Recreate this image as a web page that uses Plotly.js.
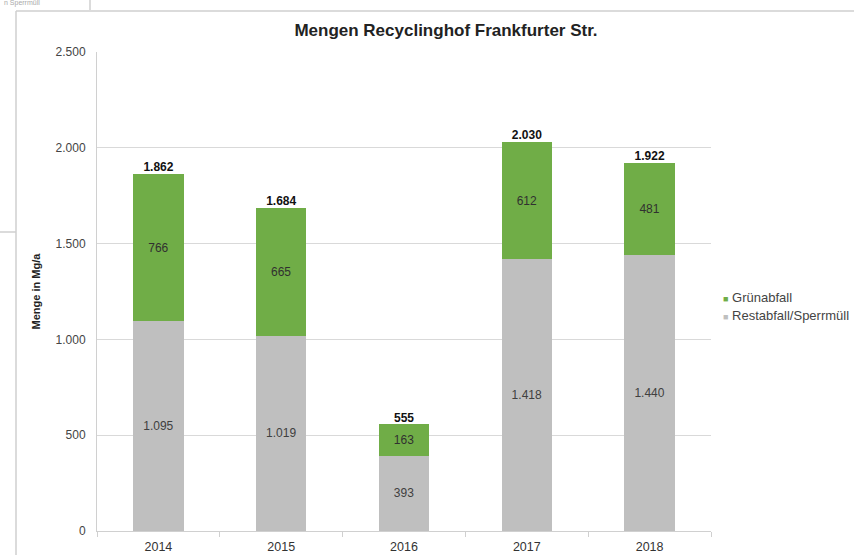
<!DOCTYPE html>
<html>
<head>
<meta charset="utf-8">
<script src="https://cdn.plot.ly/plotly-3.0.1.min.js"></script>
<style>html,body{margin:0;padding:0;background:#fff;}#chart{width:854px;height:555px;}</style>
</head>
<body>
<div id="chart"></div>
<script>
const years = ['2014', '2015', '2016', '2017', '2018'];
const restabfall = [1095, 1019, 393, 1418, 1440];
const gruenabfall = [766, 665, 163, 612, 481];
const totals = [1862, 1684, 555, 2030, 1922];
const seriesNames = ['Grünabfall', 'Restabfall/Sperrmüll'];
const seriesColors = ['#70ad47', '#bfbfbf'];

const W = 854, H = 555, L = 97, R = 711, T = 52, B = 531;
const px = x => (x - L) / (R - L);
const py = y => (B - y) / (B - T);

const font = 'Liberation Sans, Arial, sans-serif';

const traces = [
  {
    type: 'bar', name: seriesNames[1], x: years, y: restabfall,
    marker: {color: seriesColors[1]},
    texttemplate: '%{y:,}', textposition: 'inside', insidetextanchor: 'middle',
    textfont: {family: font, size: 12, color: '#404040'},
    showlegend: false
  },
  {
    type: 'bar', name: seriesNames[0], x: years, y: gruenabfall,
    marker: {color: seriesColors[0]},
    texttemplate: '%{y:,}', textposition: 'inside', insidetextanchor: 'middle',
    textfont: {family: font, size: 12, color: '#303030'},
    showlegend: false
  },
  {
    type: 'scatter', mode: 'text', x: years, y: totals, showlegend: false,
    texttemplate: '<b>%{y:,}</b>', textposition: 'top center',
    textfont: {family: font, size: 12, color: '#111'},
    hoverinfo: 'skip'
  }
];

const lineCol = '#d0d0d0';
const legendAnn = seriesNames.map((n, i) => ({
  xref: 'paper', yref: 'paper', x: px(721), y: py(297 + i * 18), xanchor: 'left', yanchor: 'middle',
  text: '<span style="color:' + seriesColors[i] + ';font-size:9px">■</span> ' + n,
  showarrow: false, font: {family: font, size: 13, color: '#444'}
}));

const layout = {
  width: W, height: H,
  margin: {l: L, r: W - R, t: T, b: H - B, pad: 0, autoexpand: false},
  paper_bgcolor: '#fff', plot_bgcolor: '#fff',
  separators: ',.',
  barmode: 'stack', bargap: 0.59,
  showlegend: false,
  font: {family: font, size: 10, color: '#444'},
  title: {
    text: '<b>Mengen Recyclinghof Frankfurter Str.</b>',
    font: {family: font, size: 17, color: '#222'},
    x: px(446), xanchor: 'center', xref: 'paper', y: 1 - 30 / H, yanchor: 'middle'
  },
  xaxis: {
    type: 'category', showgrid: false, showline: true, linecolor: lineCol, linewidth: 1,
    ticks: 'outside', ticklen: 5, tickcolor: lineCol, tickson: 'boundaries', ticklabelstandoff: 4,
    tickfont: {family: font, size: 12.5, color: '#333'}, fixedrange: true
  },
  yaxis: {
    range: [0, 2500], dtick: 500, tickformat: ',', showgrid: true, gridcolor: '#d9d9d9',
    showline: true, linecolor: lineCol, zeroline: false, ticks: '', ticklabelstandoff: 8,
    tickfont: {family: font, size: 12, color: '#444'},
    title: {text: '<b>Menge in Mg/a</b>', font: {family: font, size: 11, color: '#222'}, standoff: 12},
    fixedrange: true
  },
  shapes: [
    {type: 'line', xref: 'paper', yref: 'paper', x0: px(16), x1: px(854), y0: py(11), y1: py(11), line: {color: '#cfcfcf', width: 1.5}},
    {type: 'line', xref: 'paper', yref: 'paper', x0: px(16), x1: px(16), y0: py(11), y1: py(555), line: {color: '#cfcfcf', width: 1.5}},
    {type: 'line', xref: 'paper', yref: 'paper', x0: px(90), x1: px(90), y0: py(0), y1: py(10), line: {color: '#cfcfcf', width: 1.5}},
    {type: 'line', xref: 'paper', yref: 'paper', x0: px(0), x1: px(16), y0: py(232), y1: py(232), line: {color: '#cfcfcf', width: 1.5}}
  ],
  annotations: legendAnn.concat([
    {xref: 'paper', yref: 'paper', x: px(2), y: py(3), xanchor: 'left', yanchor: 'middle', text: 'n Sperrmüll',
     showarrow: false, font: {family: font, size: 7, color: '#aaa'}}
  ])
};

Plotly.newPlot('chart', traces, layout, {displayModeBar: false, staticPlot: true});
</script>
</body>
</html>
